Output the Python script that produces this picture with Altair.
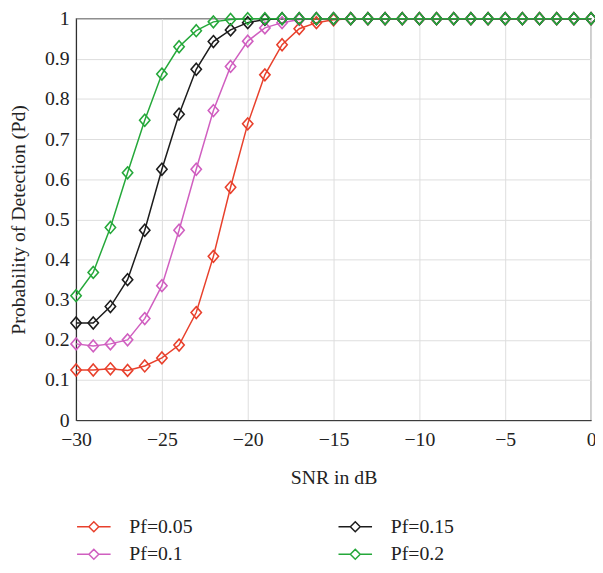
import altair as alt
import pandas as pd

snr = list(range(-30, 1))
pd_005 = [0.125, 0.125, 0.128, 0.124, 0.135, 0.155, 0.187, 0.268, 0.408, 0.580, 0.738,
          0.860, 0.935, 0.975, 0.990, 0.997] + [1.0] * 15
pd_010 = [0.190, 0.185, 0.190, 0.200, 0.253, 0.335, 0.473, 0.625, 0.771, 0.881, 0.944,
          0.977, 0.990, 0.998] + [1.0] * 17
pd_015 = [0.242, 0.242, 0.283, 0.350, 0.473, 0.625, 0.762, 0.874, 0.943, 0.972, 0.990,
          0.998] + [1.0] * 19
pd_020 = [0.310, 0.368, 0.480, 0.616, 0.747, 0.862, 0.930, 0.970, 0.992, 0.998] + [1.0] * 21

series = {"Pf=0.05": pd_005, "Pf=0.1": pd_010, "Pf=0.15": pd_015, "Pf=0.2": pd_020}
rows = []
for name, vals in series.items():
    for s, v in zip(snr, vals):
        rows.append({"snr": s, "pd": v, "series": name})
df = pd.DataFrame(rows)

legend_order = ["Pf=0.05", "Pf=0.1", "Pf=0.15", "Pf=0.2"]
colors = ["#e8402c", "#d05fc0", "#1c1c1c", "#25a83a"]

FONT = "Times New Roman, Liberation Serif, serif"
FS = 20
diamond = "M0,-1.15L1,0L0,1.15L-1,0Z"
legend_sym = "M-3.4,0L-1,0M1,0L3.4,0M-1,0L0,-1L1,0L0,1Z"

color = alt.Color("series:N",
                  scale=alt.Scale(domain=legend_order, range=colors),
                  legend=alt.Legend(title=None, orient="none", legendX=8, legendY=505,
                                    columns=2, columnPadding=144, rowPadding=8,
                                    symbolType=legend_sym, symbolSize=100,
                                    symbolStrokeWidth=1.5, symbolFillColor="transparent",
                                    labelOffset=26, labelFont=FONT, labelFontSize=FS,
                                    labelColor="#222", padding=0))

x = alt.X("snr:Q", title="SNR in dB",
          scale=alt.Scale(domain=[-30, 0], nice=False),
          axis=alt.Axis(values=[-30, -25, -20, -15, -10, -5, 0],
                        labelExpr="replace(datum.label, '-', '−')",
                        labelFlush=False, labelPadding=10, titlePadding=18))
y = alt.Y("pd:Q", title="Probability of Detection (Pd)",
          scale=alt.Scale(domain=[0, 1], nice=False),
          axis=alt.Axis(values=[0, 0.1, 0.2, 0.3, 0.4, 0.5, 0.6, 0.7, 0.8, 0.9, 1],
                        labelExpr="datum.value == 1 ? '1' : datum.value == 0 ? '0' : format(datum.value, '.1f')",
                        labelFlush=False, labelPadding=7, titlePadding=16))

lines = alt.Chart(df).mark_line(strokeWidth=1.5).encode(x=x, y=y, color=color, detail="series:N")
points = alt.Chart(df).mark_point(shape=diamond, size=110, filled=False, strokeWidth=1.6, opacity=1).encode(
    x=x, y=y, color=color)

chart = (lines + points).properties(
    width=522, height=407,
    autosize=alt.AutoSizeParams(type="none"),
    padding={"left": 69, "top": 7, "right": 4, "bottom": 143},
).configure_view(stroke="#333", strokeWidth=1.2).configure_axis(
    labelFont=FONT, titleFont=FONT, labelFontSize=FS, titleFontSize=FS,
    titleFontWeight="normal", labelColor="#222", titleColor="#222",
    domainColor="#222", ticks=False, gridColor="#dddddd",
)

chart.save("out.html", embed_options={"renderer": "svg", "actions": False})
